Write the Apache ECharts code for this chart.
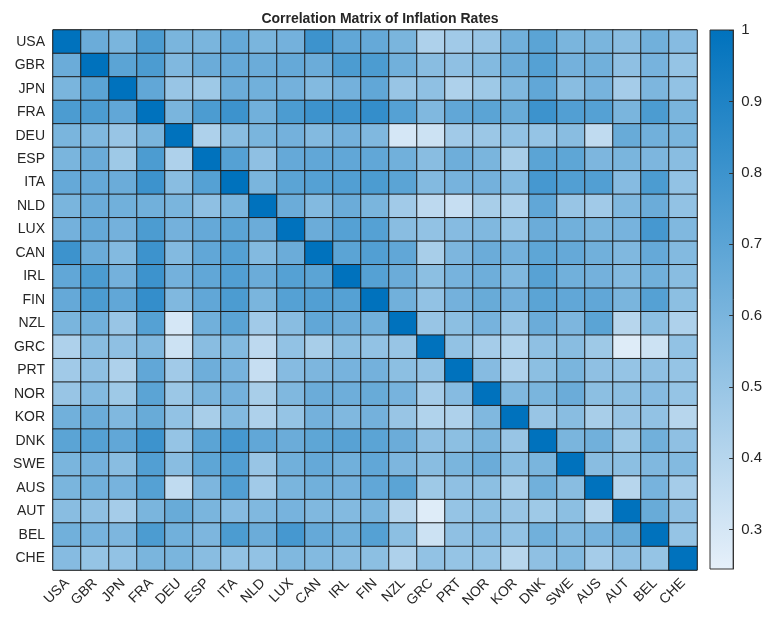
<!DOCTYPE html>
<html>
<head>
<meta charset="utf-8">
<script src="https://cdn.jsdelivr.net/npm/echarts@6/dist/echarts.min.js"></script>
<style>
    html, body { margin: 0; padding: 0; background: #fff; }
    #chart { width: 765px; height: 618px; }
</style>
</head>
<body>
<div id="chart"></div>
<script>
    // country order (top to bottom, left to right)
    var countries = ['USA','GBR','JPN','FRA','DEU','ESP','ITA','NLD','LUX','CAN','IRL','FIN',
                     'NZL','GRC','PRT','NOR','KOR','DNK','SWE','AUS','AUT','BEL','CHE']

    // lower triangle of the correlation matrix, one row per country
    var USA = []
    var GBR = [0.65]
    var JPN = [0.60, 0.70]
    var FRA = [0.75, 0.75, 0.68]
    var DEU = [0.60, 0.58, 0.50, 0.60]
    var ESP = [0.60, 0.65, 0.48, 0.75, 0.43]
    var ITA = [0.67, 0.67, 0.65, 0.80, 0.55, 0.72]
    var NLD = [0.60, 0.65, 0.63, 0.63, 0.60, 0.53, 0.60]
    var LUX = [0.62, 0.67, 0.62, 0.75, 0.62, 0.67, 0.70, 0.65]
    var CAN = [0.80, 0.65, 0.57, 0.80, 0.57, 0.68, 0.72, 0.57, 0.65]
    var IRL = [0.68, 0.75, 0.62, 0.80, 0.62, 0.68, 0.73, 0.65, 0.72, 0.70]
    var FIN = [0.67, 0.75, 0.68, 0.83, 0.58, 0.68, 0.75, 0.60, 0.72, 0.73, 0.72]
    var NZL = [0.60, 0.63, 0.50, 0.72, 0.30, 0.63, 0.70, 0.47, 0.55, 0.68, 0.65, 0.63]
    var GRC = [0.43, 0.55, 0.53, 0.58, 0.33, 0.55, 0.57, 0.38, 0.52, 0.45, 0.54, 0.52, 0.50]
    var PRT = [0.47, 0.53, 0.43, 0.68, 0.47, 0.64, 0.61, 0.35, 0.56, 0.59, 0.61, 0.62, 0.54, 0.52]
    var NOR = [0.50, 0.57, 0.48, 0.70, 0.49, 0.60, 0.62, 0.45, 0.58, 0.65, 0.64, 0.66, 0.61, 0.46, 0.56]
    var KOR = [0.63, 0.65, 0.58, 0.66, 0.52, 0.45, 0.57, 0.43, 0.51, 0.62, 0.58, 0.62, 0.50, 0.42, 0.43, 0.58]
    var DNK = [0.70, 0.72, 0.68, 0.80, 0.51, 0.70, 0.77, 0.68, 0.65, 0.69, 0.71, 0.70, 0.65, 0.53, 0.54, 0.60, 0.50]
    var SWE = [0.60, 0.62, 0.55, 0.73, 0.55, 0.69, 0.73, 0.50, 0.63, 0.67, 0.63, 0.68, 0.59, 0.55, 0.60, 0.65, 0.55, 0.60]
    var AUS = [0.60, 0.63, 0.61, 0.72, 0.37, 0.59, 0.73, 0.47, 0.60, 0.63, 0.62, 0.68, 0.70, 0.48, 0.53, 0.54, 0.45, 0.63, 0.55]
    var AUT = [0.55, 0.53, 0.46, 0.60, 0.66, 0.60, 0.56, 0.58, 0.61, 0.58, 0.57, 0.60, 0.40, 0.27, 0.51, 0.54, 0.50, 0.48, 0.54, 0.40]
    var BEL = [0.63, 0.61, 0.59, 0.75, 0.63, 0.59, 0.75, 0.65, 0.77, 0.67, 0.63, 0.72, 0.54, 0.33, 0.53, 0.56, 0.52, 0.63, 0.58, 0.61, 0.66]
    var CHE = [0.56, 0.51, 0.52, 0.60, 0.60, 0.55, 0.52, 0.52, 0.58, 0.57, 0.55, 0.54, 0.43, 0.52, 0.51, 0.51, 0.40, 0.53, 0.57, 0.46, 0.53, 0.51]

    var lowerRows = [USA,GBR,JPN,FRA,DEU,ESP,ITA,NLD,LUX,CAN,IRL,FIN,NZL,GRC,PRT,NOR,KOR,DNK,SWE,AUS,AUT,BEL,CHE]

    // colour scale range and colorbar ticks
    var cMin = 0.245
    var cMax = 1
    var barTicks = [0.3, 0.4, 0.5, 0.6, 0.7, 0.8, 0.9, 1]

    function corr(i, j) {
        if (i === j) return 1
        return i > j ? lowerRows[i][j] : lowerRows[j][i]
    }

    var cells = []
    for (var i = 0; i < countries.length; i++) {
        for (var j = 0; j < countries.length; j++) {
            cells.push([j, i, corr(i, j)])
        }
    }

    var lightC = '#e6f0fa'
    var darkC = '#0072bd'
    var txtC = '#262626'
    var fontF = '"Liberation Sans", Arial, Helvetica, sans-serif'

    var chart = echarts.init(document.getElementById('chart'), null, {renderer: 'canvas'})
    chart.setOption({
        animation: false,
        backgroundColor: '#fff',
        textStyle: {fontFamily: fontF},
        title: {
            text: 'Correlation Matrix of Inflation Rates',
            left: 375,
            textAlign: 'center',
            top: 7,
            textStyle: {fontSize: 14, fontWeight: 'bold', color: txtC, fontFamily: fontF}
        },
        grid: [
            {left: 53, top: 30, width: 644, height: 540, show: true, borderColor: '#666', borderWidth: 1, backgroundColor: '#fff'},
            {
                left: 710, top: 30, width: 27, height: 539, show: true,
                borderColor: '#333', borderWidth: 1,
                backgroundColor: new echarts.graphic.LinearGradient(0, 0, 0, 1, [
                    {offset: 0, color: darkC},
                    {offset: 1, color: lightC}
                ])
            }
        ],
        xAxis: [
            {
                type: 'category', gridIndex: 0, data: countries,
                axisLine: {show: false}, axisTick: {show: false}, splitLine: {show: false},
                axisLabel: {rotate: 45, interval: 0, fontSize: 14, color: txtC, margin: 11}
            },
            {type: 'value', gridIndex: 1, show: false, min: 0, max: 1}
        ],
        yAxis: [
            {
                type: 'category', gridIndex: 0, data: countries, inverse: true,
                axisLine: {show: false}, axisTick: {show: false}, splitLine: {show: false},
                axisLabel: {interval: 0, fontSize: 14, color: txtC, margin: 8}
            },
            {
                type: 'value', gridIndex: 1, min: cMin, max: cMax, position: 'right',
                splitLine: {show: false},
                axisLine: {show: true, onZero: false, lineStyle: {color: '#333'}},
                axisTick: {show: true, inside: true, length: 4, customValues: barTicks, lineStyle: {color: '#333'}},
                axisLabel: {show: true, customValues: barTicks, fontSize: 15, color: txtC, margin: 8,
                    formatter: function (v) { return String(Math.round(v * 10) / 10) }}
            }
        ],
        visualMap: {
            show: false,
            type: 'continuous',
            min: cMin,
            max: cMax,
            seriesIndex: 0,
            inRange: {color: [lightC, darkC]}
        },
        series: [{
            type: 'heatmap',
            xAxisIndex: 0,
            yAxisIndex: 0,
            data: cells,
            itemStyle: {borderColor: '#1e1e1e', borderWidth: 1},
            emphasis: {disabled: true}
        }]
    })
</script>
</body>
</html>
